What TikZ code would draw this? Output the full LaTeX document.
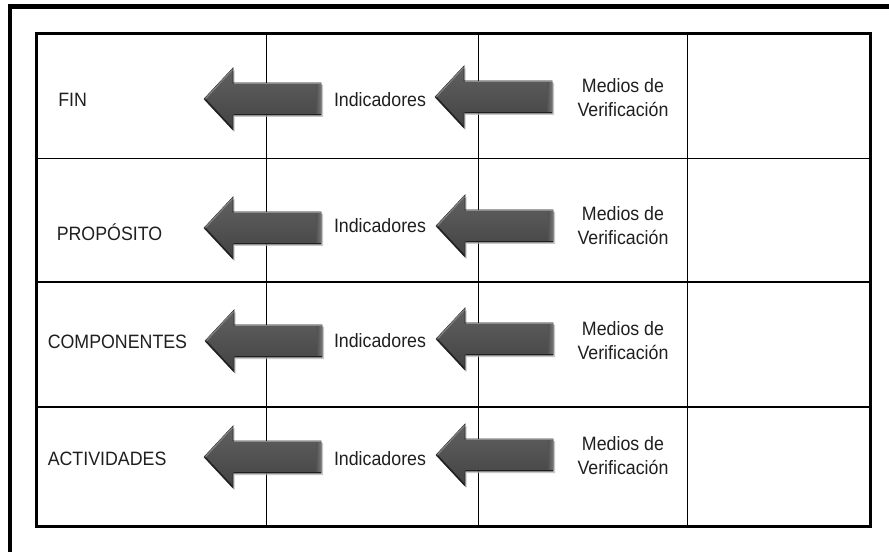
\documentclass[tikz,border=0pt]{standalone}
\usepackage{fontspec}
\setmainfont[FakeStretch=0.92]{Liberation Sans}
\begin{document}
\begin{tikzpicture}[x=0.75pt,y=-0.75pt,
  cell/.style={font=\fontsize{14.5}{18}\selectfont, inner sep=0pt, text=black!88},
  rowlabel/.style={cell, anchor=base west},
  indlabel/.style={cell, anchor=base},
  medlabel/.style={cell, align=center, anchor=center},
  frameline/.style={line width=3.4pt, line cap=rect},
  tableframe/.style={line width=2.2pt},
  gridline/.style={line width=1pt},
  bigarrow/.pic={
    % soft shadow
    \fill[black!30, opacity=0.7] (1.5,2) -- (30.5,-29) -- (30.5,-14) -- (119,-14) -- (119,18) -- (30.5,18) -- (30.5,33) -- cycle;
    % arrow body
    \shade[top color=black!62, bottom color=black!74, draw=black!82, line width=0.5pt]
      (0,0) -- (29,-31) -- (29,-16) -- (117,-16) -- (117,16) -- (29,16) -- (29,31) -- cycle;
    % bevel highlights
    \shade[left color=black!68, right color=black!55] (112,-15) rectangle (116.5,15.5);
    \draw[black!45, line width=0.9pt] (30,-15.2) -- (116.5,-15.2);
    \draw[black!50, line width=0.9pt] (1.6,-0.4) -- (28.4,-29.4);
    \draw[black!88, line width=0.9pt] (30,15.3) -- (116.5,15.3);
    \draw[black!88, line width=0.9pt] (1.6,0.6) -- (28.4,29.4);
    \coordinate (-tip) at (0,0);
    \coordinate (-tail) at (117,0);
  }]
\useasboundingbox (0,0) rectangle (889,552);
\fill[white] (0,0) rectangle (889,552);

% outer frame (only its top and left sides fall on the page)
\draw[frameline] (9.8,580) -- (9.8,6.5) -- (920,6.5);

% the table
\coordinate (tl) at (36.5,33.7);
\coordinate (br) at (870.3,526.7);
\foreach \y in {158.7,282,407}
  \draw[gridline] (36.5,\y) -- (870.3,\y);
\foreach \x in {266.5,478.3,687.8}
  \draw[gridline] (\x,33.7) -- (\x,526.7);
\draw[tableframe] (tl) rectangle (br);

% arrows
\pic (a1) at (204,99) {bigarrow};
\pic (b1) at (435,97) {bigarrow};
\pic (a2) at (204,228) {bigarrow};
\pic (b2) at (436,226) {bigarrow};
\pic (a3) at (205,341) {bigarrow};
\pic (b3) at (436,339) {bigarrow};
\pic (a4) at (204,457) {bigarrow};
\pic (b4) at (436,455) {bigarrow};

% first column
\node[rowlabel] (fin) at (58,107) {FIN};
\node[rowlabel] (prop) at (56.5,240.7) {PROPÓSITO};
\node[rowlabel] (comp) at (47.5,348.3) {COMPONENTES};
\node[rowlabel] (act) at (47.5,465) {ACTIVIDADES};

% indicators
\node[indlabel] (i1) at (380,106.7) {Indicadores};
\node[indlabel] (i2) at (380,233) {Indicadores};
\node[indlabel] (i3) at (380,347.7) {Indicadores};
\node[indlabel] (i4) at (380,465) {Indicadores};

% means of verification
\node[medlabel] (m1) at (623,98) {Medios de\\Verificación};
\node[medlabel] (m2) at (623,226) {Medios de\\Verificación};
\node[medlabel] (m3) at (623,341) {Medios de\\Verificación};
\node[medlabel] (m4) at (623,456) {Medios de\\Verificación};
\end{tikzpicture}
\end{document}
